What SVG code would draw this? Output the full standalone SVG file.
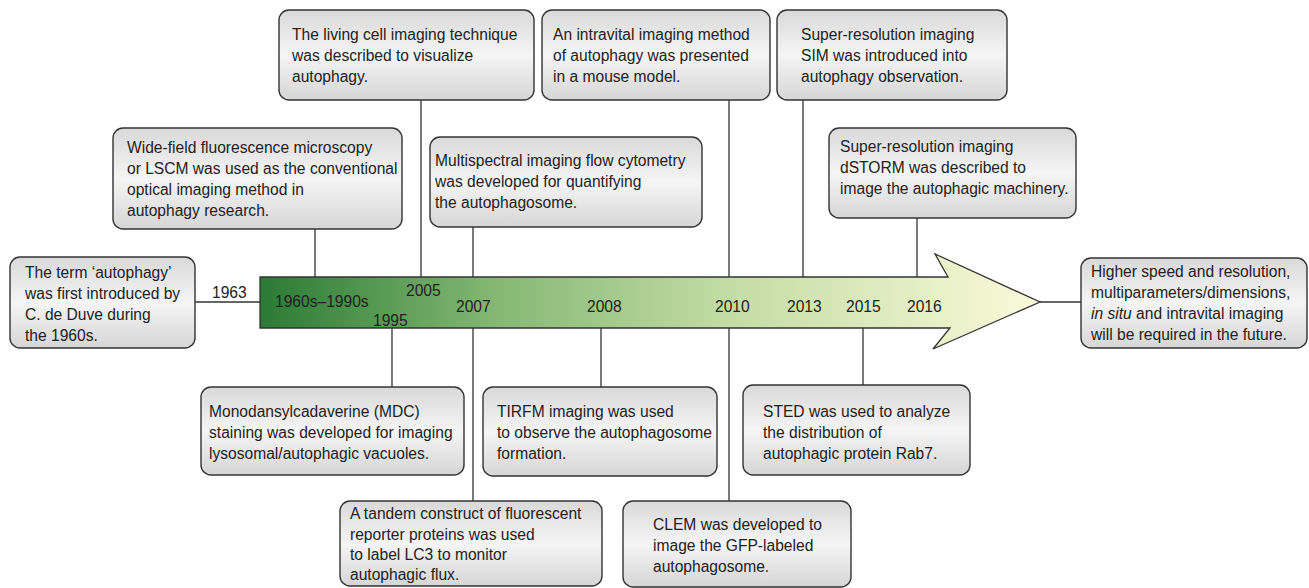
<svg xmlns="http://www.w3.org/2000/svg" width="1309" height="588" viewBox="0 0 1309 588">
<defs>
<linearGradient id="boxg" x1="0" y1="0" x2="0" y2="1">
<stop offset="0" stop-color="#d9d9d9"/>
<stop offset="0.5" stop-color="#f5f5f5"/>
<stop offset="1" stop-color="#d6d6d6"/>
</linearGradient>
<linearGradient id="arrg" x1="260" y1="0" x2="1040" y2="0" gradientUnits="userSpaceOnUse">
<stop offset="0" stop-color="#2a7a35"/>
<stop offset="0.3" stop-color="#84b872"/>
<stop offset="0.6" stop-color="#c3dca5"/>
<stop offset="1" stop-color="#fafad8"/>
</linearGradient>
<style>
.box{fill:url(#boxg);stroke:#333;stroke-width:1.4}
.t{font-family:"Liberation Sans",Arial,sans-serif;font-size:15.6px;fill:#222}
.c{stroke:#333;stroke-width:1.3;fill:none}
</style>
</defs>
<rect width="1309" height="588" fill="#fff"/>
<g id="connectors">
<line class="c" x1="195" y1="302" x2="260" y2="302"/>
<line class="c" x1="315" y1="229" x2="315" y2="277"/>
<line class="c" x1="421" y1="100" x2="421" y2="277"/>
<line class="c" x1="473" y1="227" x2="473" y2="277"/>
<line class="c" x1="729" y1="100" x2="729" y2="277"/>
<line class="c" x1="803" y1="100" x2="803" y2="277"/>
<line class="c" x1="917" y1="218" x2="917" y2="277"/>
<line class="c" x1="1040" y1="302" x2="1081" y2="302"/>
<line class="c" x1="392" y1="328" x2="392" y2="387"/>
<line class="c" x1="473" y1="328" x2="473" y2="501"/>
<line class="c" x1="601" y1="328" x2="601" y2="387"/>
<line class="c" x1="729" y1="328" x2="729" y2="501"/>
<line class="c" x1="863" y1="328" x2="863" y2="385"/>
</g>
<g id="timeline">
<path d="M260,277 L948,277 L935,254 L1040,302 L933,349 L950,328 L260,328 Z" fill="url(#arrg)" stroke="#333" stroke-width="1.3"/>
<text class="t" x="212" y="298">1963</text>
<text class="t" x="275" y="307">1960s–1990s</text>
<text class="t" x="406" y="296">2005</text>
<text class="t" x="373" y="326">1995</text>
<text class="t" x="456" y="312">2007</text>
<text class="t" x="587" y="312">2008</text>
<text class="t" x="715" y="312">2010</text>
<text class="t" x="787" y="312">2013</text>
<text class="t" x="846" y="312">2015</text>
<text class="t" x="907" y="312">2016</text>
</g>
<g id="n1963">
<rect class="box" x="10" y="257" width="185" height="91" rx="10"/>
<text class="t" x="25" y="278">The term ‘autophagy’</text>
<text class="t" x="25" y="299">was first introduced by</text>
<text class="t" x="25" y="320">C. de Duve during</text>
<text class="t" x="25" y="341">the 1960s.</text>
</g>
<g id="nWidefield">
<rect class="box" x="113" y="128" width="289" height="101" rx="10"/>
<text class="t" x="127" y="153">Wide-field fluorescence microscopy</text>
<text class="t" x="127" y="174">or LSCM was used as the conventional</text>
<text class="t" x="127" y="195">optical imaging method in</text>
<text class="t" x="127" y="216">autophagy research.</text>
</g>
<g id="nLiving">
<rect class="box" x="279" y="10" width="255" height="90" rx="10"/>
<text class="t" x="292" y="40">The living cell imaging technique</text>
<text class="t" x="292" y="61">was described to visualize</text>
<text class="t" x="292" y="82">autophagy.</text>
</g>
<g id="nMultispectral">
<rect class="box" x="430" y="137" width="272" height="90" rx="10"/>
<text class="t" x="435" y="166">Multispectral imaging flow cytometry</text>
<text class="t" x="435" y="187">was developed for quantifying</text>
<text class="t" x="435" y="208">the autophagosome.</text>
</g>
<g id="nIntravital">
<rect class="box" x="542" y="10" width="228" height="90" rx="10"/>
<text class="t" x="553" y="40">An intravital imaging method</text>
<text class="t" x="553" y="61">of autophagy was presented</text>
<text class="t" x="553" y="82">in a mouse model.</text>
</g>
<g id="nSIM">
<rect class="box" x="777" y="10" width="230" height="90" rx="10"/>
<text class="t" x="801" y="40">Super-resolution imaging</text>
<text class="t" x="801" y="61">SIM was introduced into</text>
<text class="t" x="801" y="82">autophagy observation.</text>
</g>
<g id="nDSTORM">
<rect class="box" x="829" y="128" width="247" height="90" rx="10"/>
<text class="t" x="840" y="152">Super-resolution imaging</text>
<text class="t" x="840" y="173">dSTORM was described to</text>
<text class="t" x="840" y="194">image the autophagic machinery.</text>
</g>
<g id="nFuture">
<rect class="box" x="1081" y="258" width="226" height="90" rx="10"/>
<text class="t" x="1091" y="277">Higher speed and resolution,</text>
<text class="t" x="1091" y="298">multiparameters/dimensions,</text>
<text class="t" x="1091" y="319"><tspan font-style="italic">in situ</tspan> and intravital imaging</text>
<text class="t" x="1091" y="340">will be required in the future.</text>
</g>
<g id="nMDC">
<rect class="box" x="201" y="387" width="263" height="88" rx="10"/>
<text class="t" x="209" y="417">Monodansylcadaverine (MDC)</text>
<text class="t" x="209" y="438">staining was developed for imaging</text>
<text class="t" x="209" y="459">lysosomal/autophagic vacuoles.</text>
</g>
<g id="nTIRFM">
<rect class="box" x="483" y="387" width="234" height="89" rx="10"/>
<text class="t" x="497" y="417">TIRFM imaging was used</text>
<text class="t" x="497" y="438">to observe the autophagosome</text>
<text class="t" x="497" y="459">formation.</text>
</g>
<g id="nSTED">
<rect class="box" x="743" y="385" width="227" height="90" rx="10"/>
<text class="t" x="763" y="417">STED was used to analyze</text>
<text class="t" x="763" y="438">the distribution of</text>
<text class="t" x="763" y="459">autophagic protein Rab7.</text>
</g>
<g id="nTandem">
<rect class="box" x="340" y="501" width="262" height="85" rx="10"/>
<text class="t" x="350" y="519">A tandem construct of fluorescent</text>
<text class="t" x="350" y="540">reporter proteins was used</text>
<text class="t" x="350" y="560">to label LC3 to monitor</text>
<text class="t" x="350" y="580">autophagic flux.</text>
</g>
<g id="nCLEM">
<rect class="box" x="623" y="501" width="228" height="86" rx="10"/>
<text class="t" x="653" y="530">CLEM was developed to</text>
<text class="t" x="653" y="551">image the GFP-labeled</text>
<text class="t" x="653" y="572">autophagosome.</text>
</g>
</svg>
